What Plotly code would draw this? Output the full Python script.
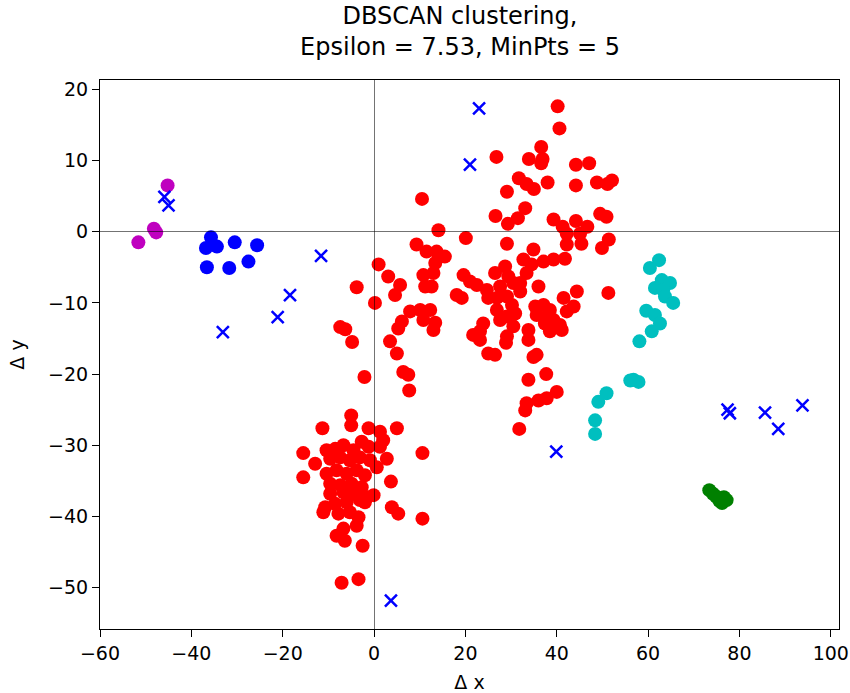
import plotly.graph_objects as go

# ---- data ----
red_x = [-3.8, 1.0, 0.2, -7.4, -6.3, -4.8,
         40.2, 40.6, 26.8, 36.6, 33.9, 36.9, 36.6, 44.2, 47.1, 10.5, 31.7, 33.4, 35.0, 38.0,
         29.1, 44.2, 48.8, 51.1, 52.1, 33.1, 26.6, 29.3, 31.5, 14.1, 20.1, 29.1, 9.3, 11.5,
         13.7, 15.5, 34.9, 39.3, 41.3, 44.2, 46.7, 49.5, 50.9, 42.2, 45.1, 51.4, 49.9, 42.2,
         45.4, 13.4, 3.1, 5.7, 4.6, 10.8, 13.0, 11.2, 12.6, 7.9, 10.1, 12.3, 6.1, 5.3, 13.4,
         13.0, 10.8, 3.5, 5.0, 6.4, 7.5, 7.7,
         19.6, 21.0, 18.1, 19.2, 22.5, 24.7, 25.0, 26.5, 28.7, 29.4, 27.6, 30.5, 32.0, 26.9,
         29.1, 30.2, 26.9, 29.1, 30.9, 27.6, 30.5, 29.1, 28.9, 23.9, 23.2, 21.7, 23.2, 25.0,
         26.5, 32.7, 34.5, 37.1, 39.3, 41.8, 33.4, 32.0, 36.0, 35.3, 37.1, 38.5, 35.6, 37.8,
         39.3, 40.7, 41.1, 38.5, 37.4, 41.5, 43.7, 44.4, 42.2, 51.3, 33.8, 33.8, 34.9, 35.6,
         33.8, 37.7, 40.0, 37.8, 36.0, 33.4, 33.1, 31.8,
         -2.1, -5.0, -5.0, -11.3, -1.2, 5.0, 1.3, 2.0, -15.5, -12.9, -15.5, 10.6, 3.7, 2.8,
         3.9, 5.3, 10.6, -2.5, -7.1, -3.4,
         -10.4, -8.5, -6.7, -4.5, -2.7, -1.2, 1.3, -9.6, -7.4, -5.3, -3.1, -0.9, 0.6, -10.4,
         -8.2, -6.0, -3.8, -2.0, -9.6, -7.4, -4.9, -2.7, -9.6, -6.7, -4.2, -1.6, -0.1, -10.7,
         -8.5, -6.0, -3.1, -2.0, -11.1, -7.8, -5.3, -3.4, -3.8, -6.7, -8.2, -6.4]
red_y = [-7.8, -4.6, -10.0, -13.4, -13.7, -15.5,
         17.6, 14.5, 10.5, 11.9, 10.2, 10.2, 9.6, 9.4, 9.6, 4.6, 7.5, 6.7, 6.0, 6.9,
         5.6, 6.5, 6.9, 6.7, 7.2, 3.3, 2.2, 1.1, 1.9, 0.2, -0.9, -1.7, -1.8, -2.8,
         -2.8, -3.5, -2.5, 1.7, 0.7, 1.5, 0.7, 2.5, 2.1, -0.3, -0.3, -1.1, -2.3, -1.8,
         -1.7, -4.4, -6.3, -7.5, -8.9, -6.1, -5.8, -7.7, -7.7, -11.2, -11.0, -11.0, -12.6, -13.6, -12.8,
         -13.8, -12.4, -15.4, -17.1, -19.7, -20.1, -22.3,
         -6.1, -7.0, -8.9, -9.3, -7.5, -8.2, -9.3, -5.8, -4.9, -6.3, -7.7, -7.2, -8.4, -9.3,
         -9.1, -10.3, -11.0, -11.9, -11.5, -12.4, -13.3, -14.7, -15.6, -12.9, -14.0, -14.5, -15.2, -17.1,
         -17.3, -3.9, -4.6, -4.2, -3.9, -3.8, -5.8, -7.2, -7.7, -10.5, -10.3, -11.0, -11.7, -11.9,
         -12.4, -13.1, -13.8, -14.0, -12.9, -9.3, -10.5, -8.4, -11.2, -8.6, -13.8, -15.2, -17.6, -17.3,
         -20.8, -20.0, -22.5, -23.4, -23.7, -24.1, -25.1, -27.7,
         -20.4, -25.8, -27.2, -27.6, -27.6, -27.6, -28.1, -29.3, -31.1, -32.6, -34.5, -31.1, -35.1, -31.9,
         -38.7, -39.6, -40.3, -44.1, -49.3, -48.8,
         -30.7, -30.5, -30.0, -30.7, -29.5, -30.2, -30.2, -31.9, -31.7, -32.1, -31.7, -32.1, -33.1, -34.0,
         -33.5, -34.0, -33.5, -34.2, -35.4, -35.6, -35.4, -35.9, -36.8, -36.6, -36.8, -37.3, -37.0, -38.7,
         -38.2, -38.0, -37.7, -38.0, -39.4, -39.6, -39.4, -40.1, -41.3, -41.7, -42.7, -43.4]

cyan_x = [62.4, 60.4, 63.0, 64.8, 61.5, 63.3, 63.7, 65.5, 59.6, 61.5, 62.6, 60.8, 58.1,
          56.8, 57.9, 56.1, 50.9, 49.1, 48.4, 48.4]
cyan_y = [-4.0, -5.1, -6.8, -7.2, -7.9, -8.2, -9.1, -10.0, -11.1, -11.7, -12.9, -14.0, -15.4,
          -20.8, -21.1, -20.9, -22.7, -23.9, -26.5, -28.4]

blue_x = [-35.7, -36.8, -34.4, -30.5, -25.6, -27.5, -31.7, -36.6]
blue_y = [-0.8, -2.3, -2.1, -1.5, -1.9, -4.2, -5.1, -5.0]

magenta_x = [-45.2, -48.2, -47.7, -51.6]
magenta_y = [6.5, 0.4, -0.1, -1.5]

green_x = [73.4, 74.2, 74.9, 75.6, 76.2, 77.2, 76.6]
green_y = [-36.3, -36.8, -37.2, -37.8, -38.1, -37.7, -37.3]

noise_x = [-45.9, -45.0, -11.6, -18.4, -21.1, -33.1, 23.0, 21.0, 39.9, 3.7,
           77.4, 77.9, 85.6, 88.5, 93.8]
noise_y = [4.9, 3.7, -3.4, -8.9, -12.0, -14.1, 17.3, 9.4, -30.9, -51.8,
           -25.0, -25.5, -25.4, -27.7, -24.4]

x_range = [-60, 101.8]
y_range = [-55.8, 21.3]
title_text = "DBSCAN clustering,<br>Epsilon = 7.53, MinPts = 5"

FONT = "DejaVu Sans"

fig = go.Figure()
clusters = [
    (red_x, red_y, "#ff0000"),
    (cyan_x, cyan_y, "#00bfbf"),
    (blue_x, blue_y, "#0000ff"),
    (magenta_x, magenta_y, "#bf00bf"),
    (green_x, green_y, "#008000"),
]
for xs, ys, col in clusters:
    fig.add_trace(go.Scatter(x=xs, y=ys, mode="markers",
                             marker=dict(symbol="circle", size=14, color=col,
                                         line=dict(width=0)),
                             showlegend=False, hoverinfo="skip"))
fig.add_trace(go.Scatter(x=noise_x, y=noise_y, mode="markers",
                         marker=dict(symbol="x-thin", size=12, color="#0000ff",
                                     line=dict(width=2.5, color="#0000ff")),
                         showlegend=False, hoverinfo="skip"))

axis_common = dict(showline=True, linecolor="black", linewidth=1.2, mirror=True,
                   ticks="outside", ticklen=7, tickwidth=1.2, tickcolor="black",
                   showgrid=False, zeroline=True, zerolinecolor="rgba(0,0,0,0.55)",
                   zerolinewidth=1.2, automargin=False,
                   tickfont=dict(family=FONT, size=19, color="black"))

fig.update_layout(
    width=850, height=693,
    margin=dict(l=100, r=11, t=80, b=64),
    paper_bgcolor="white", plot_bgcolor="white",
    font=dict(family=FONT, color="black"),
    title=dict(text=title_text, x=460/850, xref="container", xanchor="center",
               y=0.966, yref="container", yanchor="top",
               font=dict(family=FONT, size=24, color="black")),
    xaxis=dict(range=x_range, dtick=20, tick0=0,
               title=dict(text="Δ x", font=dict(family=FONT, size=19), standoff=12),
               **axis_common),
    yaxis=dict(range=y_range, dtick=10, tick0=0,
               title=dict(text="Δ y", font=dict(family=FONT, size=19), standoff=18),
               **axis_common),
)
try:
    fig.update_xaxes(zerolinelayer="above traces")
    fig.update_yaxes(zerolinelayer="above traces")
except Exception:
    pass

fig.write_html("out.html")
